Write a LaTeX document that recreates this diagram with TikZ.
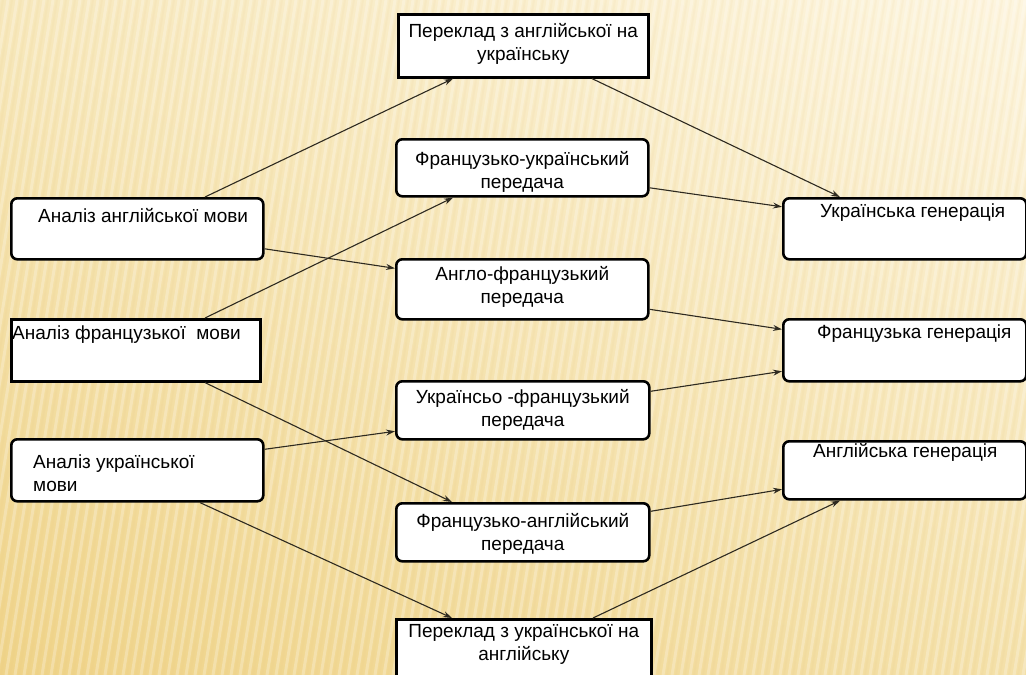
\documentclass[tikz,border=0pt]{standalone}
\usepackage{fontspec}
\setmainfont{Liberation Sans}
\usetikzlibrary{arrows.meta,shadings}
\definecolor{bgUL}{HTML}{F7E8BC}
\definecolor{bgUR}{HTML}{FDF5DF}
\definecolor{bgLL}{HTML}{EFD388}
\definecolor{bgLR}{HTML}{F4E0A8}
\definecolor{linec}{HTML}{2E2A20}
% two-line labels whose baseline is that of the first line
\newcommand\ctwo[2]{\vtop{\halign{\hfil##\hfil\cr #1\cr #2\cr}}}
\newcommand\ltwo[2]{\vtop{\halign{##\hfil\cr #1\cr #2\cr}}}
\begin{document}
\begin{tikzpicture}[x=1pt,y=-1pt,
  panel/.style={draw=black, line width=2.6pt, fill=white, inner sep=0pt, anchor=north west},
  rpanel/.style={panel, rounded corners=6pt},
  lbl/.style={inner sep=0pt, font=\fontsize{19}{23}\selectfont},
  clbl/.style={lbl, anchor=base},
  llbl/.style={lbl, anchor=base west},
  link/.style={draw=linec, line width=1.1pt, -{Stealth[length=9pt,width=6pt]}}]
\useasboundingbox (0,0) rectangle (1026,675);
% background: warm gradient with faint diagonal stripes
\shade[upper left=bgUL, upper right=bgUR, lower left=bgLL, lower right=bgLR] (0,0) rectangle (1026,675);
\begin{scope}
  \clip (0,0) rectangle (1026,675);
  \foreach \i in {-120,-111,...,1030}
    \draw[white, opacity=0.25, line width=3pt] (\i,675) -- (\i+110,0);
  \foreach \i in {-116,-107,...,1030}
    \draw[bgLL!80!brown, opacity=0.08, line width=2pt] (\i,675) -- (\i+110,0);
\end{scope}

% boxes
\node[panel,  minimum width=250, minimum height=63] (ten)  at (397,13)  {};
\node[rpanel, minimum width=252, minimum height=57] (mfu)  at (395,138) {};
\node[rpanel, minimum width=252, minimum height=60] (mef)  at (395,258) {};
\node[rpanel, minimum width=253, minimum height=58] (muf)  at (395,380) {};
\node[rpanel, minimum width=253, minimum height=58] (mfe)  at (395,502) {};
\node[panel,  minimum width=255, minimum height=75] (tue)  at (395,618) {};
\node[rpanel, minimum width=252, minimum height=61] (aeng) at (10,197)  {};
\node[panel,  minimum width=249, minimum height=62] (afr)  at (10,318)  {};
\node[rpanel, minimum width=252, minimum height=62] (aukr) at (10,438)  {};
\node[rpanel, minimum width=243, minimum height=61] (gukr) at (782,197) {};
\node[rpanel, minimum width=243, minimum height=62] (gfr)  at (782,318) {};
\node[rpanel, minimum width=243, minimum height=58] (geng) at (782,440) {};

% labels
\node[clbl] (tten) at ([yshift=-24]ten.north) {\ctwo{Переклад з англійської на}{українську}};
\node[clbl] (tmfu) at ([yshift=-27]mfu.north) {\ctwo{Французько-український}{передача}};
\node[clbl] (tmef) at ([yshift=-22]mef.north) {\ctwo{Англо-французький}{передача}};
\node[clbl] (tmuf) at ([yshift=-23]muf.north) {\ctwo{Українсьо -французький}{передача}};
\node[clbl] (tmfe) at ([yshift=-25]mfe.north) {\ctwo{Французько-англійський}{передача}};
\node[clbl] (ttue) at ([yshift=-19]tue.north) {\ctwo{Переклад з української на}{англійську}};
\node[llbl] (taeng) at ([xshift=28,yshift=-25]aeng.north west) {Аналіз англійської мови};
\node[llbl] (tafr)  at ([xshift=2,yshift=-21]afr.north west) {Аналіз французької\ \ мови};
\node[llbl] (taukr) at ([xshift=23,yshift=-30]aukr.north west) {\ltwo{Аналіз української}{мови}};
\node[llbl] (tgukr) at ([xshift=38,yshift=-20]gukr.north west) {Українська генерація};
\node[llbl] (tgfr)  at ([xshift=35,yshift=-20]gfr.north west) {Французька генерація};
\node[llbl] (tgeng) at ([xshift=31,yshift=-17]geng.north west) {Англійська генерація};

% connectors
\draw[link] ([xshift=195]aeng.north west) -- ([xshift=56]ten.south west);
\draw[link] ([xshift=195]ten.south west) -- ([xshift=58]gukr.north west);
\draw[link] ([yshift=-20]mfu.east) -- ([yshift=22]gukr.west);
\draw[link] ([yshift=-20]aeng.east) -- ([yshift=21]mef.west);
\draw[link] ([xshift=195]afr.north west) -- ([xshift=58]mfu.south west);
\draw[link] ([yshift=-20]mef.east) -- ([yshift=21]gfr.west);
\draw[link] ([yshift=19]muf.east) -- ([yshift=-21]gfr.west);
\draw[link] ([xshift=195]afr.south west) -- ([xshift=57]mfe.north west);
\draw[link] ([yshift=21]aukr.east) -- ([yshift=-21]muf.west);
\draw[link] ([yshift=21]mfe.east) -- ([yshift=-19]geng.west);
\draw[link] ([xshift=190]aukr.south west) -- ([xshift=57]tue.north west);
\draw[link] ([xshift=198]tue.north west) -- ([xshift=58]geng.south west);
\end{tikzpicture}
\end{document}
